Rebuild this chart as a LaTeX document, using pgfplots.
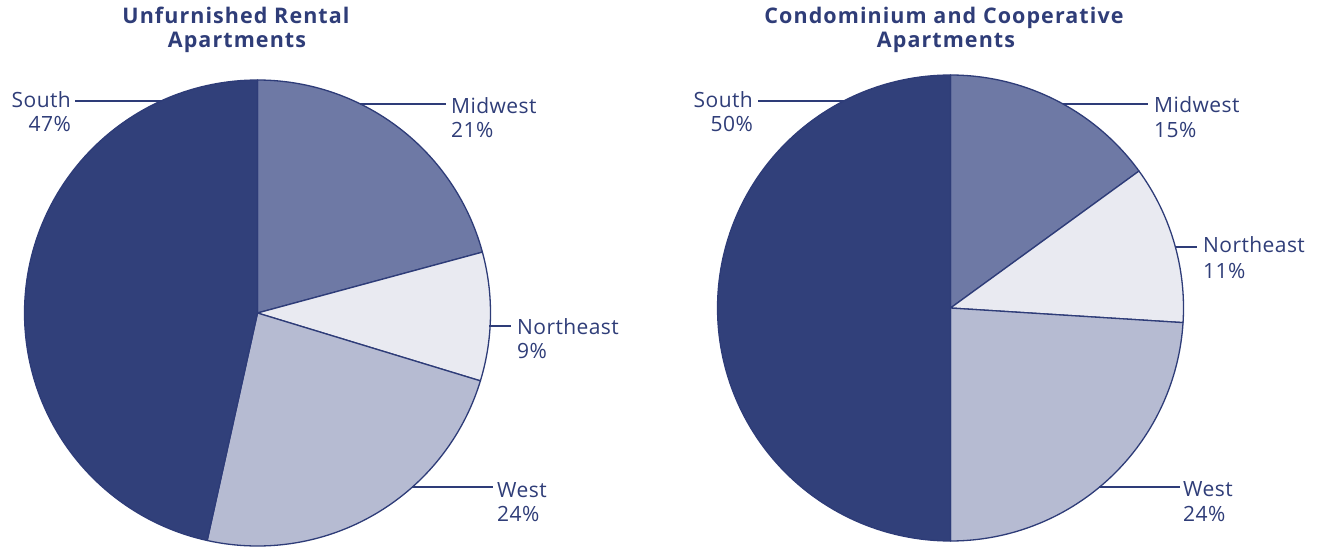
\documentclass[border=0pt]{standalone}
\usepackage{pgfplots}
\pgfplotsset{compat=1.18}
\usepackage{fontspec}
\setmainfont{Open Sans}
\definecolor{navy}{RGB}{49,63,122}
\definecolor{edgecol}{RGB}{46,60,120}
\definecolor{cSouth}{RGB}{49,64,122}
\definecolor{cMid}{RGB}{110,121,165}
\definecolor{cNE}{RGB}{233,234,241}
\definecolor{cWest}{RGB}{182,187,210}
\definecolor{txt}{RGB}{47,61,120}

% slice: #1 cx, #2 cy, #3 cumulative share before, #4 share, #5 total, #6 colour
\newcommand{\slice}[6]{%
  \pgfmathsetmacro\angA{90-3.6*((#3+#4)/#5*100)}%
  \pgfmathsetmacro\angB{90-3.6*((#3)/#5*100)}%
  \addplot[fill=#6, draw=edgecol, line width=1.3pt, line join=round, domain=\angA:\angB, samples=120]
    ({#1+233*cos(x)},{#2-233*sin(x)}) -- (axis cs:#1,#2) -- cycle;
}

\begin{document}
\begin{tikzpicture}
\begin{axis}[
  width=1319pt, height=548pt, scale only axis,
  xmin=0, xmax=1319, ymin=0, ymax=548, y dir=reverse,
  hide axis, clip=false,
]
\path (axis cs:0,0) rectangle (axis cs:1319,548);
% Left pie: Unfurnished Rental Apartments (Midwest 21, Northeast 9, West 24, South 47)
\slice{257.5}{313}{0}{21}{101}{cMid}
\slice{257.5}{313}{21}{9}{101}{cNE}
\slice{257.5}{313}{30}{24}{101}{cWest}
\slice{257.5}{313}{54}{47}{101}{cSouth}
% Right pie: Condominium and Cooperative Apartments (Midwest 15, Northeast 11, West 24, South 50)
\slice{950.5}{308}{0}{15}{100}{cMid}
\slice{950.5}{308}{15}{11}{100}{cNE}
\slice{950.5}{308}{26}{24}{100}{cWest}
\slice{950.5}{308}{50}{50}{100}{cSouth}

% leader lines
\begin{scope}[draw=edgecol, line width=1.3pt]
\draw (axis cs:75,101) -- (axis cs:162,101);
\draw (axis cs:360,104) -- (axis cs:446,104);
\draw (axis cs:489,326) -- (axis cs:511,326);
\draw (axis cs:412,487) -- (axis cs:493,487);
\draw (axis cs:758,101) -- (axis cs:844,101);
\draw (axis cs:1063,104) -- (axis cs:1148,104);
\draw (axis cs:1175,247) -- (axis cs:1197,247);
\draw (axis cs:1099,487) -- (axis cs:1180,487);
\end{scope}

% labels
\begin{scope}[every node/.style={font=\fontsize{21}{25}\selectfont\addfontfeature{LetterSpace=2}, text=txt, inner sep=0pt}]
\node[anchor=base east] at (axis cs:71,108) {South};
\node[anchor=base east] at (axis cs:71,132) {47\%};
\node[anchor=base west] at (axis cs:451,114) {Midwest};
\node[anchor=base west] at (axis cs:451,138) {21\%};
\node[anchor=base west] at (axis cs:517,334) {Northeast};
\node[anchor=base west] at (axis cs:517,358) {9\%};
\node[anchor=base west] at (axis cs:497,497) {West};
\node[anchor=base west] at (axis cs:497,521) {24\%};
\node[anchor=base east] at (axis cs:753,108) {South};
\node[anchor=base east] at (axis cs:753,132) {50\%};
\node[anchor=base west] at (axis cs:1154,113) {Midwest};
\node[anchor=base west] at (axis cs:1154,138) {15\%};
\node[anchor=base west] at (axis cs:1203,252) {Northeast};
\node[anchor=base west] at (axis cs:1203,278) {11\%};
\node[anchor=base west] at (axis cs:1183,496) {West};
\node[anchor=base west] at (axis cs:1183,521) {24\%};
\end{scope}

% titles
\begin{scope}[every node/.style={font=\bfseries\fontsize{21.5}{24}\selectfont\addfontfeature{LetterSpace=5}, text=txt, inner sep=0pt, anchor=base}]
\node at (axis cs:236,24) {Unfurnished Rental};
\node at (axis cs:237,48) {Apartments};
\node at (axis cs:944,24) {Condominium and Cooperative};
\node at (axis cs:946,48) {Apartments};
\end{scope}
\end{axis}
\end{tikzpicture}
\end{document}
